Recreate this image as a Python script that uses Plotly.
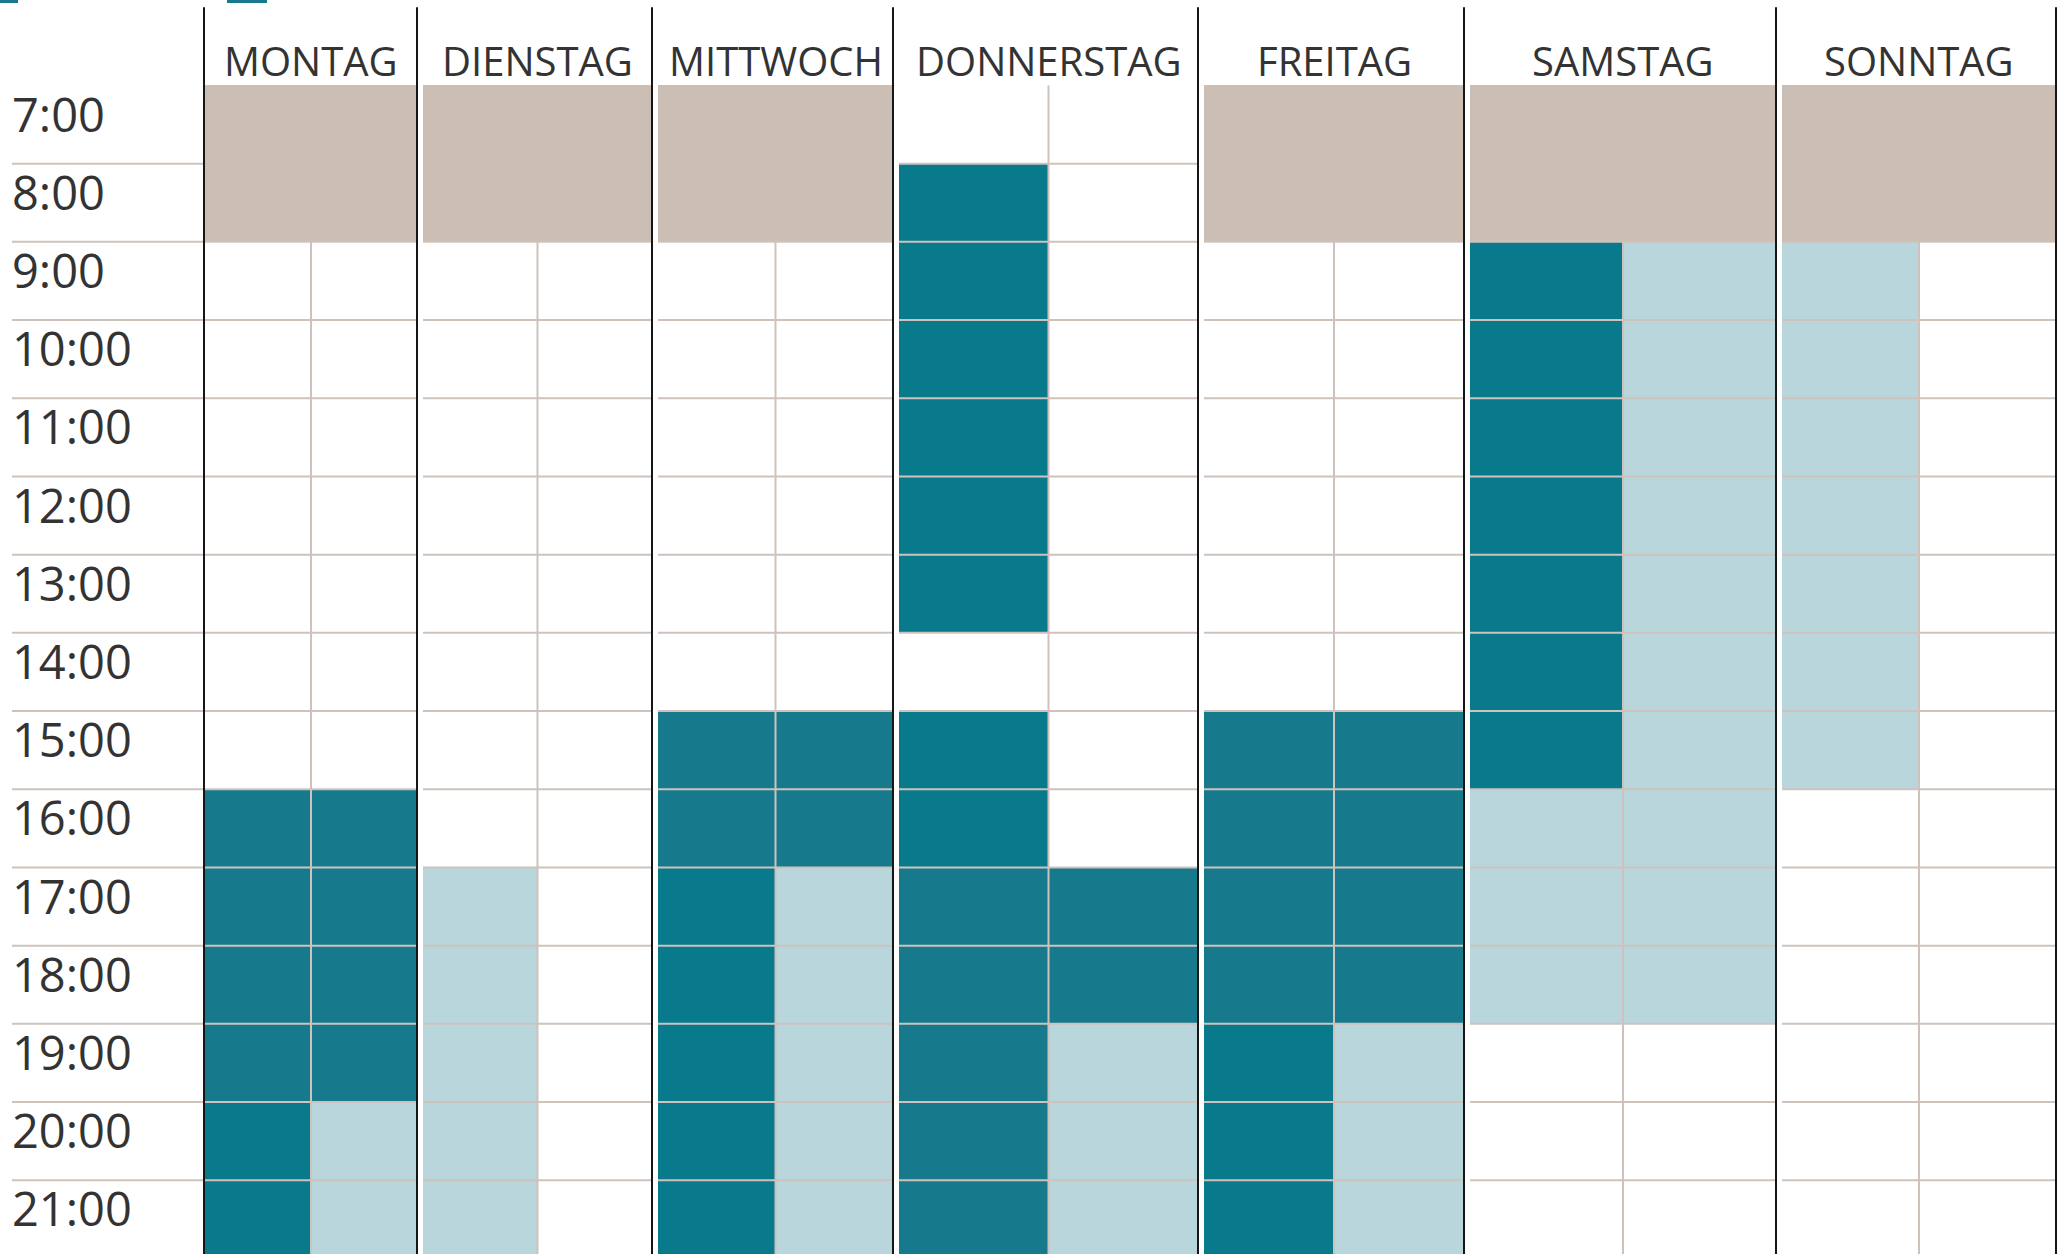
import plotly.graph_objects as go

# ---------------- data ----------------
DAYS = ["MONTAG", "DIENSTAG", "MITTWOCH", "DONNERSTAG", "FREITAG", "SAMSTAG", "SONNTAG"]
HOURS = list(range(7, 22))
HOUR_LABELS = [f"{h}:00" for h in HOURS]

# state per hour 7..21 for the two half-columns of each day
# T = closed (tan), 0 = empty, D = dark teal, M = muted teal, L = light blue
MONTAG_A = "TT0000000MMMMDD"
MONTAG_B = "TT0000000MMMMLL"
DIENSTAG_A = "TT00000000LLLLL"
DIENSTAG_B = "TT0000000000000"
MITTWOCH_A = "TT000000MMDDDDD"
MITTWOCH_B = "TT000000MMLLLLL"
DONNERSTAG_A = "0DDDDDD0DDMMMMM"
DONNERSTAG_B = "0000000000MMLLL"
FREITAG_A = "TT000000MMMMDDD"
FREITAG_B = "TT000000MMMMLLL"
SAMSTAG_A = "TTDDDDDDDLLL000"
SAMSTAG_B = "TTLLLLLLLLLL000"
SONNTAG_A = "TTLLLLLLL000000"
SONNTAG_B = "TT0000000000000"

SCHEDULE_A = [MONTAG_A, DIENSTAG_A, MITTWOCH_A, DONNERSTAG_A, FREITAG_A, SAMSTAG_A, SONNTAG_A]
SCHEDULE_B = [MONTAG_B, DIENSTAG_B, MITTWOCH_B, DONNERSTAG_B, FREITAG_B, SAMSTAG_B, SONNTAG_B]

# ---------------- layout / style ----------------
W, H = 2062, 1254
DAY_EDGES = [204, 417, 652, 893, 1198, 1464, 1776, 2056]
CELL_INSET = [1, 6, 6, 6, 6, 6, 6]
Y_TOP, Y_BOTTOM = 5.907, 21.943
LABEL_X0 = 12

COLORS = {"T": "#CABEB5", "D": "#087A8C", "M": "#167A8C", "L": "#B8D6DC"}
GRID = "#CDC3BC"
BLACK = "#161616"
TEXT = "#333333"
FONT = "Open Sans"

fig = go.Figure()

# cell bars grouped by colour
bars = {k: {"x": [], "w": [], "base": [], "h": []} for k in COLORS}
for i, day in enumerate(DAYS):
    x0 = DAY_EDGES[i] + CELL_INSET[i]
    x1 = DAY_EDGES[i + 1]
    mid = (x0 + x1) / 2
    a, b = SCHEDULE_A[i], SCHEDULE_B[i]
    closed = [h for h, ca, cb in zip(HOURS, a, b) if ca == "T" and cb == "T"]
    if closed:
        bars["T"]["x"].append((x0 + x1) / 2)
        bars["T"]["w"].append(x1 - x0)
        bars["T"]["base"].append(min(closed))
        bars["T"]["h"].append(len(closed))
    for codes, (cx0, cx1) in ((a, (x0, mid)), (b, (mid, x1))):
        for h, c in zip(HOURS, codes):
            if c in ("D", "M", "L"):
                bars[c]["x"].append((cx0 + cx1) / 2)
                bars[c]["w"].append(cx1 - cx0)
                bars[c]["base"].append(h)
                bars[c]["h"].append(1)

for k, d in bars.items():
    if not d["x"]:
        continue
    fig.add_trace(go.Bar(
        x=d["x"], y=d["h"], base=d["base"], width=d["w"],
        marker=dict(color=COLORS[k], line=dict(width=0)),
        hoverinfo="skip", showlegend=False,
    ))

# grid lines
gx, gy = [], []
for i in range(len(DAYS)):
    x0 = DAY_EDGES[i] + CELL_INSET[i]
    x1 = DAY_EDGES[i + 1]
    mid = (x0 + x1) / 2
    a, b = SCHEDULE_A[i], SCHEDULE_B[i]
    is_closed = [ca == "T" and cb == "T" for ca, cb in zip(a, b)]
    for j in range(1, len(HOURS)):
        if is_closed[j - 1] and is_closed[j]:
            continue
        gx += [x0, x1, None]
        gy += [HOURS[j], HOURS[j], None]
    open_hours = [h for h, c in zip(HOURS, is_closed) if not c]
    gx += [mid, mid, None]
    gy += [min(open_hours), Y_BOTTOM + 1, None]
for h in HOURS[1:]:
    gx += [LABEL_X0, DAY_EDGES[0], None]
    gy += [h, h, None]
fig.add_trace(go.Scatter(x=gx, y=gy, mode="lines", line=dict(color=GRID, width=2),
                         hoverinfo="skip", showlegend=False))

# black day separators
bx, by = [], []
for e in DAY_EDGES:
    bx += [e, e, None]
    by += [6.0, Y_BOTTOM + 1, None]
fig.add_trace(go.Scatter(x=bx, y=by, mode="lines", line=dict(color=BLACK, width=2),
                         hoverinfo="skip", showlegend=False))

# clipped legend swatches at top edge
SWATCHES = [(0, 18), (227, 267)]
fig.add_trace(go.Bar(
    x=[(s0 + s1) / 2 for s0, s1 in SWATCHES], width=[s1 - s0 for s0, s1 in SWATCHES],
    base=[5.80] * len(SWATCHES), y=[5.95 - 5.80] * len(SWATCHES),
    marker=dict(color=COLORS["M"], line=dict(width=0)), hoverinfo="skip", showlegend=False,
))

annotations = []
for i, day in enumerate(DAYS):
    x0 = DAY_EDGES[i] + CELL_INSET[i]
    x1 = DAY_EDGES[i + 1]
    annotations.append(dict(x=(x0 + x1) / 2, y=6.685, xref="x", yref="y", text=day,
                            showarrow=False, xanchor="center", yanchor="middle",
                            font=dict(family=FONT, size=40, color=TEXT)))
for h, lab in zip(HOURS, HOUR_LABELS):
    annotations.append(dict(x=10, y=h + 0.36, xref="x", yref="y", text=lab,
                            showarrow=False, xanchor="left", yanchor="middle",
                            font=dict(family=FONT, size=47, color=TEXT)))

fig.update_layout(
    width=W, height=H, margin=dict(l=0, r=0, t=0, b=0),
    paper_bgcolor="white", plot_bgcolor="white",
    barmode="overlay", bargap=0, showlegend=False,
    xaxis=dict(range=[0, W], visible=False, fixedrange=True),
    yaxis=dict(range=[Y_BOTTOM, Y_TOP], visible=False, fixedrange=True),
    annotations=annotations,
)

fig.write_html(
    "out.html",
    config={"displayModeBar": False},
    post_script="document.body.style.margin='0';document.body.style.overflow='hidden';",
)
